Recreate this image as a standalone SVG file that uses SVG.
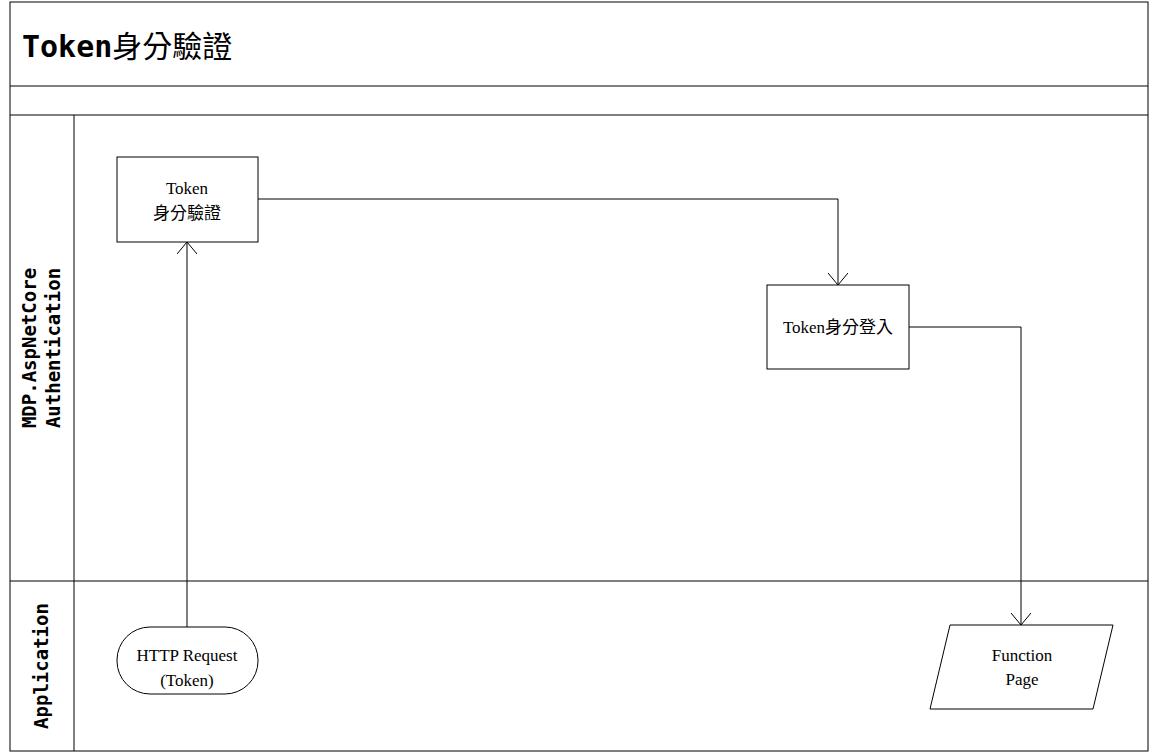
<svg xmlns="http://www.w3.org/2000/svg" width="1151" height="753" viewBox="0 0 1151 753">
<style>
.b{fill:#fff;stroke:#000;stroke-width:1}
.t{font-family:"Liberation Serif","Noto Sans CJK TC",serif;font-size:17px;text-anchor:middle}
.lane{font-family:"DejaVu Sans Mono","Noto Sans CJK TC",monospace;font-weight:bold;font-size:19px;text-anchor:middle}
.c{fill:none;stroke:#000;stroke-width:1}
</style>
<defs><marker id="a" viewBox="0 0 12 20" refX="12" refY="10" markerWidth="12" markerHeight="20" markerUnits="userSpaceOnUse" orient="auto"><path d="M0,0 L12,10 L0,20" fill="none" stroke="#000"/></marker></defs>
<rect width="1151" height="753" fill="#fff"/>
<g id="frame" fill="none" stroke="#000">
<rect x="10" y="2" width="1138" height="749"/>
<line x1="10" y1="86" x2="1148" y2="86"/>
<line x1="10" y1="115" x2="1148" y2="115"/>
<line x1="10" y1="581" x2="1148" y2="581"/>
<line x1="74" y1="115" x2="74" y2="751"/>
</g>
<text x="22" y="57" font-family="DejaVu Sans Mono,'Noto Sans CJK TC',monospace" font-weight="bold" font-size="30">Token<tspan font-family="'Noto Sans CJK TC',sans-serif" font-weight="normal">身分驗證</tspan></text>
<g id="lane1"><text class="lane" transform="translate(36,348) rotate(-90)">MDP.AspNetCore</text><text class="lane" transform="translate(60,348) rotate(-90)">Authentication</text></g>
<g id="lane2"><text class="lane" transform="translate(48,666) rotate(-90)">Application</text></g>
<g id="connectors">
<path class="c" d="M258,199 H838 V285" marker-end="url(#a)"/>
<path class="c" d="M909,327 H1021 V625" marker-end="url(#a)"/>
<path class="c" d="M187,627 V242" marker-end="url(#a)"/>
</g>
<g id="n1"><rect class="b" x="117" y="157" width="141" height="85"/><text class="t" x="187" y="194">Token</text><text class="t" x="187" y="219">身分驗證</text></g>
<g id="n2"><rect class="b" x="767" y="285" width="142" height="84"/><text class="t" x="838" y="333">Token身分登入</text></g>
<g id="n3"><rect class="b" x="117" y="627" width="141" height="67" rx="33"/><text class="t" x="187" y="661">HTTP Request</text><text class="t" x="187" y="686">(Token)</text></g>
<g id="n4"><polygon class="b" points="950,625 1113,625 1093,709 930,709"/><text class="t" x="1022" y="661">Function</text><text class="t" x="1022" y="685">Page</text></g>
</svg>
